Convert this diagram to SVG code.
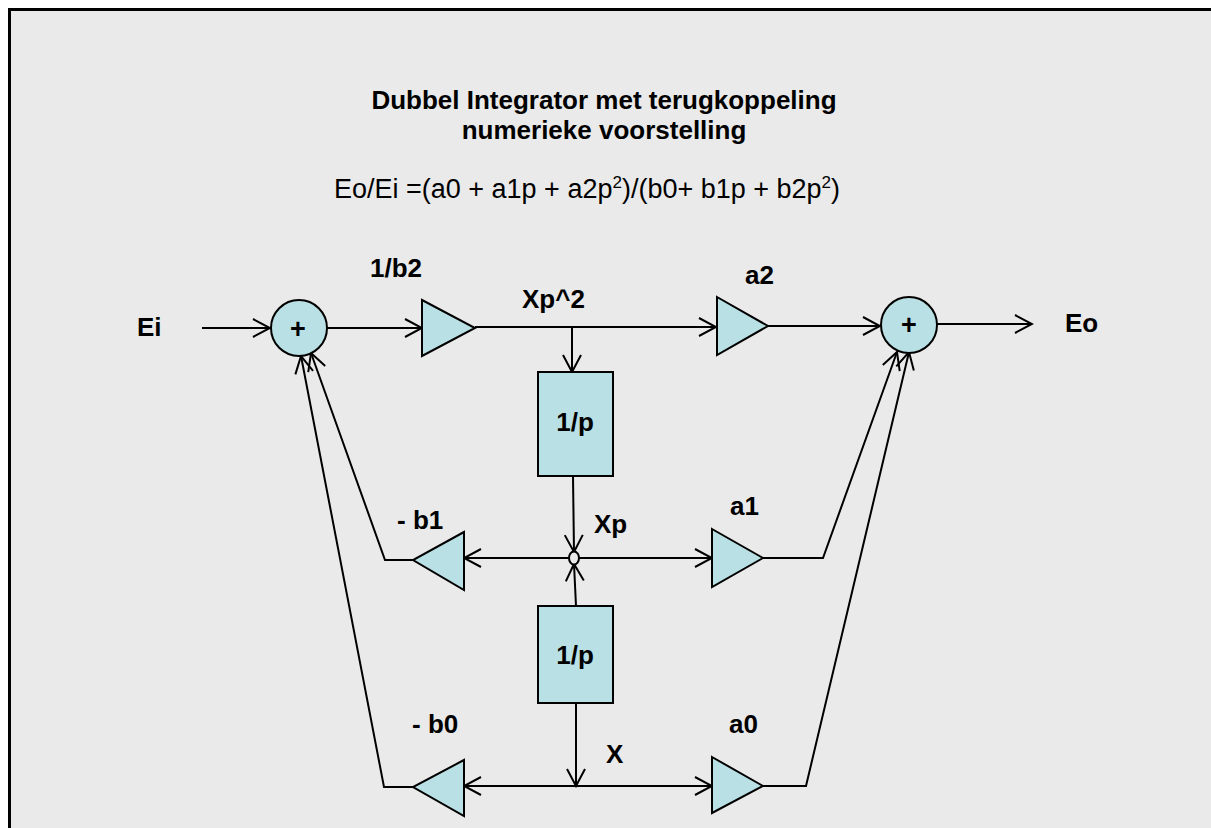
<svg xmlns="http://www.w3.org/2000/svg" width="1211" height="828" viewBox="0 0 1211 828">
<defs>
<marker id="arr" viewBox="-19 -11 21 22" refX="0" refY="0" markerWidth="21" markerHeight="22" markerUnits="userSpaceOnUse" orient="auto"><path d="M-17,-9 L0,0 L-17,9" fill="none" stroke="#000" stroke-width="2"/></marker>
<style>
text{font-family:"Liberation Sans",Arial,sans-serif;fill:#000}
.b{font-weight:bold;font-size:26px}
.t{font-weight:bold;font-size:26px;text-anchor:middle}
.f{font-size:27px;text-anchor:middle}
.plus{font-weight:bold;font-size:27px;text-anchor:middle}
.shape{fill:#B9E0E4;stroke:#000;stroke-width:2}
.w{fill:none;stroke:#000;stroke-width:2}
.a{fill:none;stroke:#000;stroke-width:2;marker-end:url(#arr)}
</style>
</defs>
<rect x="0" y="0" width="1211" height="828" fill="#fff"/>
<rect x="10" y="10" width="1201" height="818" fill="#EAEAEA"/>
<path d="M9.5,828 V9.5 H1211" fill="none" stroke="#000" stroke-width="3"/>
<g id="title">
<text class="t" x="604" y="109">Dubbel Integrator met terugkoppeling</text>
<text class="t" x="604" y="139">numerieke voorstelling</text>
<text class="f" x="587" y="198">Eo/Ei =(a0 + a1p + a2p<tspan font-size="17" dy="-10">2</tspan><tspan dy="10">)/(b0+ b1p + b2p</tspan><tspan font-size="17" dy="-10">2</tspan><tspan dy="10">)</tspan></text>
</g>
<g id="connectors">
<line class="a" x1="202" y1="328" x2="270" y2="328"/>
<line class="a" x1="327" y1="328" x2="422" y2="328"/>
<line class="a" x1="475" y1="327" x2="716" y2="327"/>
<line class="a" x1="768" y1="326" x2="880" y2="326"/>
<line class="a" x1="937" y1="324" x2="1032" y2="324"/>
<line class="a" x1="572" y1="327" x2="572" y2="372"/>
<line class="a" x1="573" y1="476" x2="574" y2="552"/>
<line class="a" x1="576" y1="606" x2="574" y2="564"/>
<line class="a" x1="569" y1="558" x2="464" y2="558"/>
<line class="a" x1="579" y1="558" x2="712" y2="558"/>
<line class="a" x1="576" y1="703" x2="576" y2="786"/>
<line class="a" x1="576" y1="786" x2="464" y2="786"/>
<line class="a" x1="576" y1="786" x2="712" y2="786"/>
<polyline class="a" points="413,560 385,560 311,353"/>
<polyline class="a" points="413,787 384,787 301,356"/>
<polyline class="a" points="763,558 823,558 897,352"/>
<polyline class="a" points="763,786 806,786 909,352"/>
</g>
<g id="sum-left">
<circle class="shape" cx="299" cy="328" r="28"/>
<text class="plus" x="298" y="338">+</text>
</g>
<g id="sum-right">
<circle class="shape" cx="909" cy="325" r="28"/>
<text class="plus" x="909" y="334">+</text>
</g>
<g id="gain-1b2">
<polygon class="shape" points="422,300 475,328 422,356"/>
<text class="b" x="370" y="277">1/b2</text>
</g>
<g id="gain-a2">
<polygon class="shape" points="717,297 768,326 717,355"/>
<text class="b" x="745" y="284">a2</text>
</g>
<g id="int1">
<rect class="shape" x="538" y="372" width="75" height="104"/>
<text class="t" x="575" y="431">1/p</text>
</g>
<g id="node-xp">
<ellipse cx="574" cy="558" rx="5" ry="6.5" fill="#EAEAEA" stroke="#000" stroke-width="2"/>
<text class="b" x="594" y="533">Xp</text>
</g>
<g id="int2">
<rect class="shape" x="538" y="606" width="75" height="97"/>
<text class="t" x="575" y="664">1/p</text>
</g>
<g id="gain-b1">
<polygon class="shape" points="464,532 413,560 464,590"/>
<text class="b" x="397" y="529">- b1</text>
</g>
<g id="gain-a1">
<polygon class="shape" points="712,529 763,558 712,587"/>
<text class="b" x="730" y="515">a1</text>
</g>
<g id="gain-b0">
<polygon class="shape" points="464,760 413,787 464,816"/>
<text class="b" x="412" y="733">- b0</text>
</g>
<g id="gain-a0">
<polygon class="shape" points="712,757 763,786 712,813"/>
<text class="b" x="729" y="733">a0</text>
</g>
<g id="labels">
<text class="b" x="137" y="336">Ei</text>
<text class="b" x="1065" y="332">Eo</text>
<text class="b" x="522" y="308">Xp^2</text>
<text class="b" x="606" y="763">X</text>
</g>
</svg>
